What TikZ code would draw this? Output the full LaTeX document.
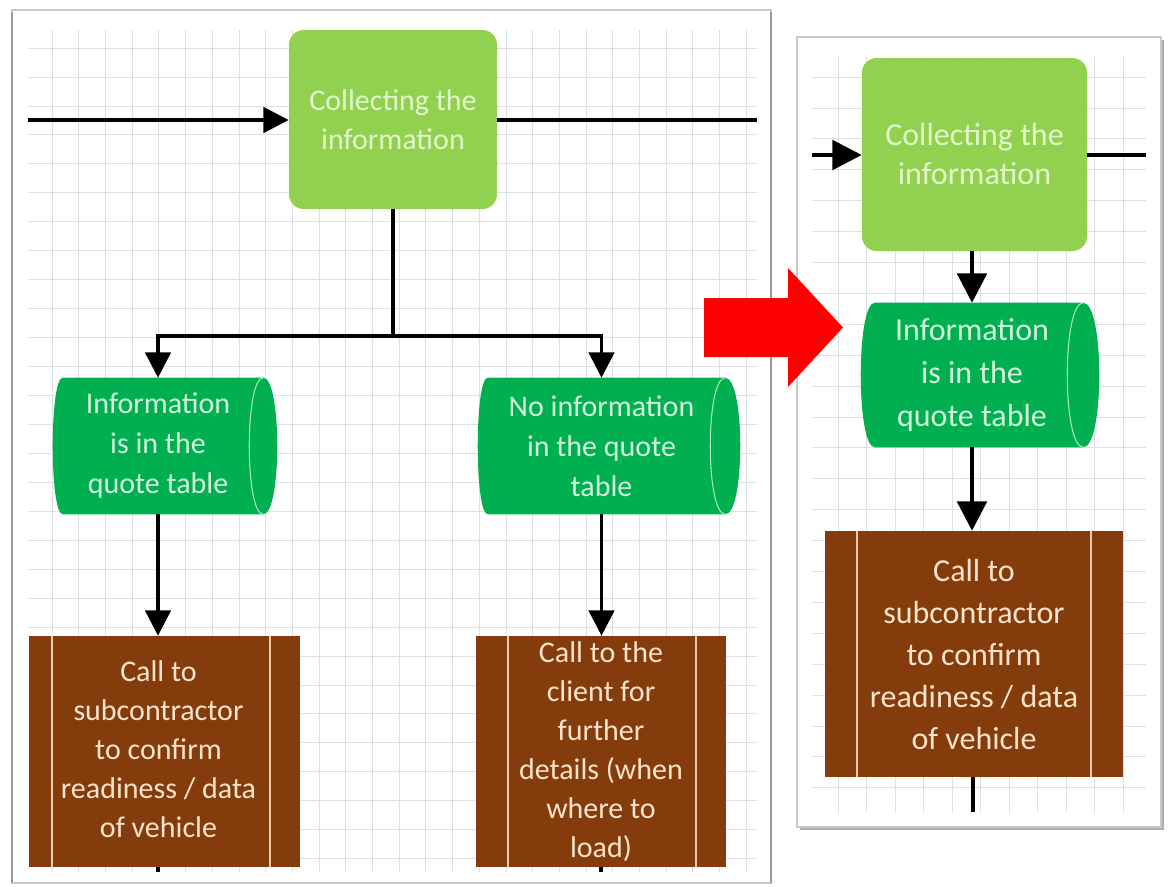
\documentclass[tikz,border=0pt]{standalone}
\usepackage{fontspec}
\setmainfont{Carlito}
\usetikzlibrary{arrows.meta,calc}
\pgfdeclarelayer{back}
\pgfdeclarelayer{shapes}
\pgfsetlayers{back,shapes,main}

\definecolor{lightgreen}{HTML}{92D050}
\definecolor{storegreen}{HTML}{00B050}
\definecolor{procbrown}{HTML}{843C0C}
\definecolor{paletxtA}{HTML}{E4F6CC}
\definecolor{paletxtB}{HTML}{D2F4DC}
\definecolor{paletxtC}{HTML}{FBE3CC}
\definecolor{gridline}{HTML}{DCDFE3}
\definecolor{panelline}{HTML}{C8C8C8}
\definecolor{panelshadow}{HTML}{9A9A9A}

\tikzset{
  fontL/.style={font=\fontsize{22.5}{29.25}\selectfont},
  fontLs/.style={font=\fontsize{22.5}{30}\selectfont},
  fontR/.style={font=\fontsize{24}{29.25}\selectfont},
  fontRs/.style={font=\fontsize{24}{32}\selectfont},
  fontRp/.style={font=\fontsize{24}{31.5}\selectfont},
  collect/.style={rectangle, rounded corners=11pt, fill=lightgreen, text=paletxtA,
    align=center, inner sep=0pt},
  storetext/.style={rectangle, inner sep=0pt, text=paletxtB, align=center},
  storeedge/.style={draw=paletxtB!80!storegreen, line width=0.8pt},
  procedge/.style={draw=paletxtC!85!procbrown, line width=0.9pt},
  proc/.style n args={2}{rectangle, fill=procbrown, text=paletxtC, inner sep=0pt,
    path picture={
      \draw[procedge] ($(path picture bounding box.north west)+(#1,0)$) --
                      ($(path picture bounding box.south west)+(#1,0)$);
      \draw[procedge] ($(path picture bounding box.north east)+(-#2,0)$) --
                      ($(path picture bounding box.south east)+(-#2,0)$);}},
  lineL/.style={draw=black, line width=2.6pt},
  arrL/.style={lineL, -{Triangle[length=19pt,width=19pt]}},
  lineR/.style={draw=black, line width=3.2pt},
  arrR/.style={lineR, -{Triangle[length=22pt,width=22pt]}},
}

% stored-data shape behind a node: node, left bulge, right bulge (px)
\newcommand\storeshape[3]{%
  \fill[storegreen] ($(#1.north west)+(#2,0)$) -- (#1.north east)
    .. controls ($(#1.north east)+({4/3*#3},0)$) and ($(#1.south east)+({4/3*#3},0)$) .. (#1.south east)
    -- ($(#1.south west)+(#2,0)$)
    .. controls ($(#1.south west)+({#2-4/3*#2},0)$) and ($(#1.north west)+({#2-4/3*#2},0)$) .. cycle;
  \draw[storeedge] (#1.north east)
    .. controls ($(#1.north east)+({-4/3*#3},0)$) and ($(#1.south east)+({-4/3*#3},0)$) .. (#1.south east);
}

\begin{document}
\begin{tikzpicture}[x=0.75pt,y=-0.75pt]
\useasboundingbox (0,0) rectangle (1171,886);

% ---------- sheets and grids ----------
\begin{pgfonlayer}{back}
  \fill[white] (0,0) rectangle (1171,886);
  % left sheet
  \filldraw[fill=white, draw=panelline, line width=0.8pt] (12,10) rectangle (771,883);
  \draw[panelshadow, line width=1.6pt] (12,12) -- (12,883);
  \draw[panelshadow, line width=2pt] (771,12) -- (771,883);
  \foreach \i in {0,...,26}
    \draw[gridline, line width=0.6pt] ({52+26.7*\i},30) -- ({52+26.7*\i},872);
  \foreach \j in {0,...,28}
    \draw[gridline, line width=0.6pt] (28,{48+28.95*\j}) -- (757,{48+28.95*\j});
  % right sheet
  \fill[panelshadow!80] (800,40) rectangle (1164,830);
  \filldraw[fill=white, draw=panelline, line width=0.8pt] (797,37) rectangle (1161,827);
  \foreach \i in {0,...,10}
    \draw[gridline, line width=0.6pt] ({838+28.5*\i},57) -- ({838+28.5*\i},813);
  \foreach \j in {0,...,23}
    \draw[gridline, line width=0.6pt] (812,{77+30.9*\j}) -- (1146,{77+30.9*\j});
\end{pgfonlayer}

% ---------- left flow ----------
\node[collect, fontL, minimum width=156pt, minimum height=134.25pt] (g1) at (393,119.5)
  {Collecting the\\information};
\node[storetext, fontLs, minimum width=157.5pt, minimum height=102pt] (s1) at (158,446)
  {Information\\is in the\\quote table};
\node[storetext, fontLs, minimum width=185.25pt, minimum height=102pt] (s2) at (601.5,446)
  {No information\\in the quote\\table};
\node[proc={23}{30}, fontL, minimum width=203.25pt, minimum height=173.25pt] (b1) at (164.5,751.5)
  {\hspace*{-4.5pt}\begin{tabular}{@{}c@{}}Call to\\subcontractor\\to confirm\\readiness / data\\of vehicle\end{tabular}\hspace*{4.5pt}};
\node[proc={32}{30}, fontL, align=center, minimum width=187.5pt, minimum height=173.25pt] (b2) at (601,751.5)
  {Call to the\\client for\\further\\details (when\\where to\\load)};

\begin{pgfonlayer}{shapes}
  \storeshape{s1}{10}{14}
  \storeshape{s2}{10}{15}
\end{pgfonlayer}

\coordinate (inL) at (28,120);
\coordinate (outL) at (757,120);
\coordinate (split) at (393,336);
\coordinate (endL1) at (158,872);
\coordinate (endL2) at (601,872);

\draw[arrL] (inL) -- (inL -| g1.west);
\draw[lineL] (outL -| g1.east) -- (outL);
\draw[lineL] (g1.south) -- (split);
\draw[arrL] (split) -| (s1.north);
\draw[arrL] (split) -| (s2.north);
\draw[arrL] (s1.south) -- (s1.south |- b1.north);
\draw[arrL] (s2.south) -- (s2.south |- b2.north);
\draw[lineL] (endL1 |- b1.south) -- (endL1);
\draw[lineL] (endL2 |- b2.south) -- (endL2);

% ---------- change marker ----------
\fill[red] (704,298) -- (788,298) -- (788,268) -- (843,327.5) -- (788,387)
  -- (788,357) -- (704,357) -- cycle;

% ---------- right flow ----------
\node[collect, fontR, minimum width=168.75pt, minimum height=144.75pt] (g2) at (974.5,154.5)
  {Collecting the\\information};
\node[storetext, fontRs, minimum width=166.5pt, minimum height=108pt] (s3) at (972,375)
  {Information\\is in the\\quote table};
\node[proc={32}{32}, fontRp, align=center, minimum width=223.5pt, minimum height=184.5pt] (b3) at (974,654)
  {Call to\\subcontractor\\to confirm\\readiness / data\\of vehicle};

\begin{pgfonlayer}{shapes}
  \storeshape{s3}{14}{16}
\end{pgfonlayer}

\coordinate (inR) at (812,155);
\coordinate (outR) at (1146,155);
\coordinate (endR) at (973,812);

\draw[arrR] (inR) -- (inR -| g2.west);
\draw[lineR] (outR -| g2.east) -- (outR);
\draw[arrR] (g2.south -| s3.north) -- (s3.north);
\draw[arrR] (s3.south) -- (s3.south |- b3.north);
\draw[lineR] (endR |- b3.south) -- (endR);
\end{tikzpicture}
\end{document}
